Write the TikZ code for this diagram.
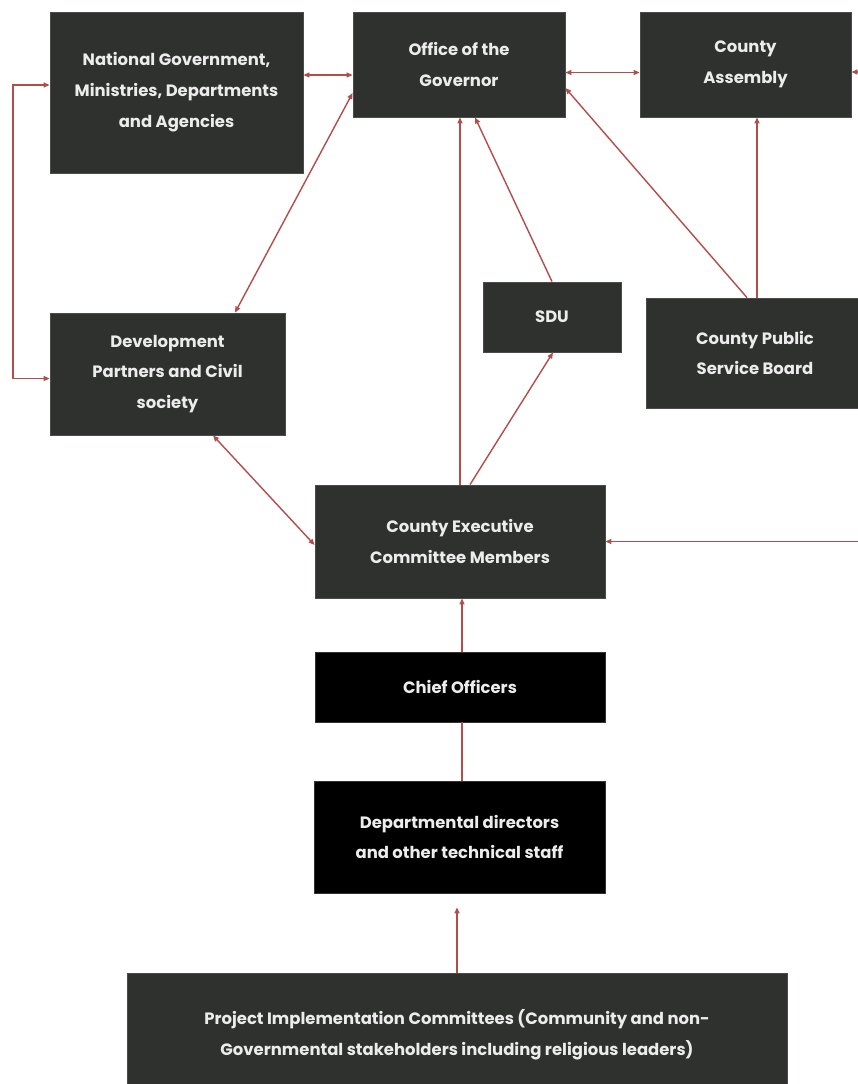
\documentclass[tikz,border=0pt]{standalone}
\usepackage{fontspec}
\setmainfont{Poppins}
\usetikzlibrary{arrows.meta,calc}
\definecolor{boxgray}{HTML}{2F312F}
\definecolor{boxedge}{HTML}{4A4C4A}
\definecolor{lnred}{HTML}{B24E4A}
\definecolor{txt}{HTML}{ECECEC}
\tikzset{
  box/.style={fill=boxgray, draw=boxedge, line width=0.8bp, text=txt, align=center, inner sep=0pt,
    font=\fontsize{16.5}{31}\selectfont\bfseries},
  blackbox/.style={box, fill=black, draw=black!80},
  conn/.style={color=lnred, line width=1.4bp},
  arr/.style={conn, -{Triangle[length=6bp,width=5bp]}},
  dbl/.style={conn, {Triangle[length=6bp,width=5bp]}-{Triangle[length=6bp,width=5bp]}}
}
\begin{document}
\begin{tikzpicture}[x=1bp,y=-1bp]
\useasboundingbox (0,0) rectangle (858,1084);
\fill[white] (0,0) rectangle (858,1084);

\node[box, minimum width=253bp, minimum height=161bp] (nat) at (176.5,92.5) {National Government,\\Ministries, Departments\\and Agencies};
\node[box, minimum width=212bp, minimum height=105bp] (gov) at (459,64.5) {Office of the\\Governor};
\node[box, minimum width=211bp, minimum height=105bp] (asm) at (745.5,64.5) {County\\Assembly};
\node[box, minimum width=235bp, minimum height=122bp] (dev) at (167.5,374) {Development\\Partners and Civil\\society};
\node[box, minimum width=138bp, minimum height=70bp] (sdu) at (552,317) {SDU};
\node[box, minimum width=218bp, minimum height=110bp] (cpsb) at (755,353) {County Public\\Service Board};
\node[box, minimum width=290bp, minimum height=113bp] (cec) at (460,541.5) {County Executive\\Committee Members};
\node[blackbox, minimum width=290bp, minimum height=70bp] (chief) at (460,687) {Chief Officers};
\node[blackbox, minimum width=291bp, minimum height=112bp] (dept) at (459.5,837) {Departmental directors\\and other technical staff};
\node[box, minimum width=660bp, minimum height=124bp] (pic) at (457,1035) {Project Implementation Committees (Community and non-\\Governmental stakeholders including religious leaders)};

\coordinate (rr) at (861,0);
\coordinate (ll) at (13,0);
\coordinate (gw1) at ([yshift=-10.5bp]gov.west);
\coordinate (gw2) at ([yshift=-28.5bp]gov.west);
\coordinate (ge1) at ([yshift=-8bp]gov.east);
\coordinate (ge2) at ([yshift=-23.5bp]gov.east);
\coordinate (nw1) at ([yshift=7.5bp]nat.west);
\coordinate (dw1) at ([yshift=-4.5bp]dev.west);
\coordinate (ae1) at ([yshift=-7.5bp]asm.east);
\coordinate (cp1) at ([xshift=2bp]cpsb.north);
\coordinate (ch1) at ([xshift=2bp]chief.north);
\coordinate (de1) at ([xshift=2.5bp]dept.north);

% top row
\draw[dbl] (nat.east |- gw1) -- (gw1);
\draw[dbl] (ge1) -- (asm.west |- ge1);
% left loop
\draw[dbl] (nw1) -- (ll |- nw1) |- (dw1);
% governor <-> development partners
\draw[dbl] (gw2) -- ([xshift=67.5bp]dev.north);
% into governor
\draw[arr] (cec.north) -- (cec.north |- gov.south);
\draw[arr] (sdu.north) -- ([xshift=16bp]gov.south);
\draw[arr] ([xshift=-8bp]cpsb.north) -- (ge2);
% into SDU and assembly
\draw[arr] ([xshift=10bp]cec.north) -- ([xshift=1bp]sdu.south);
\draw[arr] (cp1) -- (cp1 |- asm.south);
% development partners <-> CEC
\draw[dbl] ([xshift=45.5bp]dev.south) -- ([yshift=-3.5bp]cec.west);
% CEC <-> assembly via right edge
\draw[dbl] (cec.east) -- (cec.east -| rr) |- (ae1);
% lower chain
\draw[arr] (ch1) -- (ch1 |- cec.south);
\draw[conn, line width=1.6bp] (de1) -- (de1 |- chief.south);
\draw[arr, shorten >=14bp] (pic.north) -- (pic.north |- dept.south);
\end{tikzpicture}
\end{document}
